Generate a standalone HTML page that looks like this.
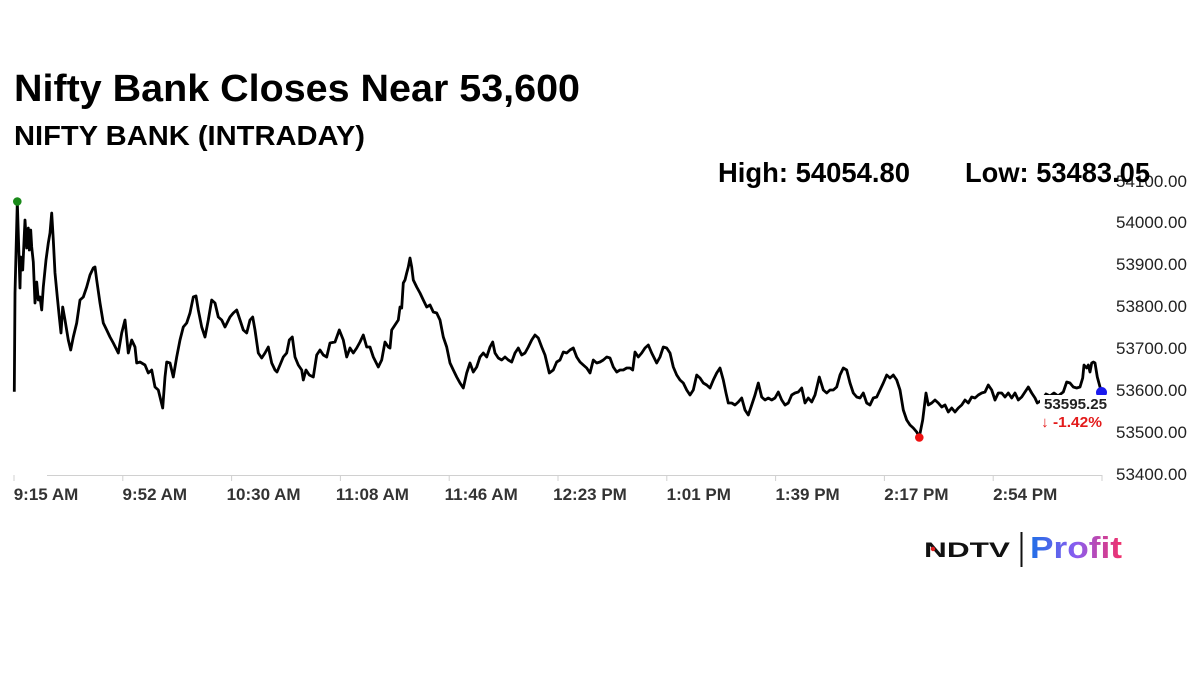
<!DOCTYPE html>
<html>
<head>
<meta charset="utf-8">
<style>
  html,body{margin:0;padding:0;background:#fff;}
  svg{display:block;}
  text{font-family:"Liberation Sans", Arial, sans-serif;}
</style>
</head>
<body>
<svg width="1200" height="675" viewBox="0 0 1200 675" xmlns="http://www.w3.org/2000/svg">
  <defs>
    <linearGradient id="pg" x1="1030" y1="0" x2="1122" y2="0" gradientUnits="userSpaceOnUse">
      <stop offset="0" stop-color="#1f6fe6"/>
      <stop offset="0.5" stop-color="#8a5df0"/>
      <stop offset="1" stop-color="#f2306a"/>
    </linearGradient>
  </defs>
  <rect width="1200" height="675" fill="#fff"/>

  <!-- Titles -->
  <text x="14" y="101" font-size="38" font-weight="bold" fill="#000" textLength="566" lengthAdjust="spacingAndGlyphs">Nifty Bank Closes Near 53,600</text>
  <text x="14" y="145" font-size="28" font-weight="bold" fill="#000" textLength="351" lengthAdjust="spacingAndGlyphs">NIFTY BANK (INTRADAY)</text>

  <!-- Y axis labels -->
  <g font-size="17" fill="#222">
    <text x="1116" y="187">54100.00</text>
    <text x="1116" y="228">54000.00</text>
    <text x="1116" y="270">53900.00</text>
    <text x="1116" y="312">53800.00</text>
    <text x="1116" y="354">53700.00</text>
    <text x="1116" y="396">53600.00</text>
    <text x="1116" y="438">53500.00</text>
    <text x="1116" y="480">53400.00</text>
  </g>

  <!-- High / Low -->
  <text x="718" y="182" font-size="28" font-weight="bold" fill="#000" textLength="192" lengthAdjust="spacingAndGlyphs">High: 54054.80</text>
  <text x="965" y="182" font-size="28" font-weight="bold" fill="#000" textLength="185" lengthAdjust="spacingAndGlyphs">Low: 53483.05</text>

  <!-- X axis -->
  <line x1="47" y1="475.5" x2="1102" y2="475.5" stroke="#d0d0d0" stroke-width="1"/>
  <g stroke="#d0d0d0" stroke-width="1">
    <line x1="14" y1="475" x2="14" y2="481"/>
    <line x1="122.8" y1="475" x2="122.8" y2="481"/>
    <line x1="231.6" y1="475" x2="231.6" y2="481"/>
    <line x1="340.4" y1="475" x2="340.4" y2="481"/>
    <line x1="449.2" y1="475" x2="449.2" y2="481"/>
    <line x1="558" y1="475" x2="558" y2="481"/>
    <line x1="666.8" y1="475" x2="666.8" y2="481"/>
    <line x1="775.6" y1="475" x2="775.6" y2="481"/>
    <line x1="884.4" y1="475" x2="884.4" y2="481"/>
    <line x1="993.2" y1="475" x2="993.2" y2="481"/>
    <line x1="1102" y1="475" x2="1102" y2="481"/>
  </g>
  <g font-size="17" font-weight="bold" fill="#333" text-anchor="middle">
    <text x="46" y="500">9:15 AM</text>
    <text x="154.8" y="500">9:52 AM</text>
    <text x="263.6" y="500">10:30 AM</text>
    <text x="372.4" y="500">11:08 AM</text>
    <text x="481.2" y="500">11:46 AM</text>
    <text x="590" y="500">12:23 PM</text>
    <text x="698.8" y="500">1:01 PM</text>
    <text x="807.6" y="500">1:39 PM</text>
    <text x="916.4" y="500">2:17 PM</text>
    <text x="1025.2" y="500">2:54 PM</text>
  </g>

  <!-- Series -->
  <path fill="none" stroke="#000" stroke-width="2.8" stroke-linejoin="round" d="M14.3,391.7 L15,293 L17.3,202 L20,288 L20.7,257 L22.7,270 L25,220 L26.7,248 L28.3,228 L29.3,250 L30.7,230 L31.7,247 L33.3,262 L35,303 L36.7,282 L38.3,300 L40,297 L41.7,310 L43.3,287 L46,260 L48.3,243 L50,233 L51.7,213 L53.3,240 L55,273 L57.3,297 L59.3,317 L61,333 L62.7,307 L65,320 L68.3,340 L70.7,350 L73.3,337 L76.7,323 L80,300 L83.3,297 L86.7,287 L90,275 L93.3,268 L95,267 L96.7,280 L100,303 L103.3,323 L106.7,330 L110,337 L113.3,343 L118.3,353 L121.7,333 L125,320 L126.7,337 L128.3,353 L131.7,340 L135,347 L136.7,363 L140,362 L145,365 L148.3,373 L151.7,370 L155,387 L158.3,390 L162.7,408 L165,377 L166.7,362 L170,363 L173.3,377 L176.7,357 L180,340 L183.3,327 L186.7,323 L190,313 L193.3,297 L196,296 L198.3,310 L201.7,327 L205,337 L208.3,320 L211.7,300 L215,303 L218.3,317 L221.7,320 L225,327 L230,317 L233.3,313 L236.7,310 L240,320 L243.3,330 L246.7,333 L250,320 L252.7,317 L255,330 L258.3,353 L261.7,358 L265,353 L268.3,347 L271.7,363 L275,370 L277,372 L280,365 L283.3,357 L286.7,353 L289.3,340 L292.3,337 L295,357 L298.3,365 L301.7,370 L303.3,380 L306,370 L309.3,375 L313.3,377 L316.7,355 L320,350 L323.3,355 L326.7,357 L330,343 L335,342 L339.3,330 L343.3,340 L346.7,357 L350,348 L353.3,353 L356.7,348 L360,342 L363.3,335 L366.7,347 L370,347 L373.3,357 L378.3,367 L381.7,360 L385,342 L388.3,347 L390,348 L391.7,330 L395,325 L398.3,320 L400,307 L401.7,308 L403.3,283 L405,280 L406.7,273 L408.3,267 L410,258 L411.7,267 L413.3,280 L416.7,287 L420,293 L423.3,300 L426.7,307 L430,305 L433.3,312 L436.7,313 L440,320 L443.3,337 L446.7,347 L450,363 L453.3,370 L456.7,377 L460,383 L463.3,388 L466.7,373 L470,363 L473.3,372 L476.7,367 L480,357 L483.3,353 L486.7,357 L490,347 L492.7,342 L495,353 L498.3,358 L501.7,360 L505,357 L508.3,360 L511.7,362 L515,353 L518.3,348 L521.7,355 L525,353 L528.3,347 L531.7,340 L535,335 L538.3,338 L541.7,347 L545,355 L549.3,373 L553.3,370 L556.7,362 L560,360 L563.3,352 L566.7,353 L570,350 L573.3,348 L576.7,357 L580,362 L583.3,365 L586.7,368 L590,373 L593.3,360 L596.7,363 L600,362 L603.3,360 L606.7,357 L610,358 L613.3,367 L616.7,372 L620,370 L623.3,370 L626.7,368 L630,368 L632.7,370 L635,352 L638.3,357 L641.7,353 L645,348 L648.3,345 L651.7,353 L656.7,363 L660,357 L663.3,347 L666.7,348 L670,353 L673.3,367 L676.7,375 L680,380 L683.3,383 L686.7,390 L690,395 L693.3,390 L696.7,375 L700,378 L703.3,383 L706.7,385 L710,388 L713.3,380 L716.7,373 L720,368 L723.3,380 L726,393 L728.3,403 L731.7,403 L735,405 L738.3,402 L741.7,398 L745,410 L748.3,415 L751.7,405 L755,395 L758.3,383 L761.7,397 L765,400 L768.3,398 L771.7,400 L775,398 L778.3,392 L781.7,400 L785,405 L788.3,403 L791.7,395 L795,393 L798.3,392 L801.7,388 L805,403 L808.3,398 L811.7,402 L815,395 L819.3,377 L823.3,390 L826.7,393 L830,390 L833.3,390 L836.7,387 L840,375 L843.3,368 L846.7,370 L850,383 L853.3,393 L856.7,397 L860,398 L863.3,393 L866.7,403 L870,405 L873.3,398 L876.7,397 L880,390 L883.3,383 L886.7,375 L890,378 L893.3,375 L896.7,380 L900,390 L903.3,410 L906.7,420 L910,425 L913.3,428 L916.7,432 L919.3,437 L922.7,420 L926,393 L928.3,405 L931.7,403 L935,400 L938.3,403 L941.7,407 L945,405 L948.3,412 L951.7,408 L955,412 L958.3,408 L961.7,405 L965,400 L968.3,403 L971.7,397 L975,398 L978.3,395 L981.7,393 L985,392 L988.3,385 L991.7,390 L995,400 L998.3,393 L1001.7,393 L1005,397 L1008.3,393 L1011.7,398 L1015,393 L1018.3,400 L1021.7,397 L1025,392 L1028.3,387 L1031.7,393 L1035,398 L1037.3,403 L1042,400 L1046,394 L1050,396 L1054,393 L1058,396 L1063.3,392 L1066.7,382 L1070,383 L1073.3,387 L1076.7,388 L1080,387 L1082.7,378 L1084,365 L1086.7,368 L1088.3,365 L1090,372 L1091.7,363 L1093.3,362 L1095,363 L1097.3,377 L1100,387 L1102.7,392"/>

  <!-- markers -->
  <circle cx="17.3" cy="201.5" r="4.3" fill="#1a8a1a"/>
  <circle cx="919.3" cy="437.5" r="4.3" fill="#ee1111"/>
  <circle cx="1101.5" cy="392.5" r="5.5" fill="#1a1aee"/>

  <!-- last value label -->
  <rect x="1040" y="395" width="70" height="36" fill="#fff"/>
  <text x="1044" y="409" font-size="15" font-weight="bold" fill="#222" textLength="63" lengthAdjust="spacingAndGlyphs">53595.25</text>
  <text x="1041" y="427" font-size="15" font-weight="bold" fill="#e31b1b" textLength="61" lengthAdjust="spacingAndGlyphs">↓ -1.42%</text>

  <!-- Logo -->
  <text x="924" y="557" font-size="21" font-weight="bold" fill="#111" textLength="86" lengthAdjust="spacingAndGlyphs">NDTV</text>
  <circle cx="933" cy="549" r="2.2" fill="#e31b1b"/>
  <rect x="1020.5" y="532" width="2" height="35" fill="#111"/>
  <text x="1030" y="558" font-size="31" font-weight="bold" fill="url(#pg)" textLength="92" lengthAdjust="spacingAndGlyphs">Profit</text>
</svg>
</body>
</html>
